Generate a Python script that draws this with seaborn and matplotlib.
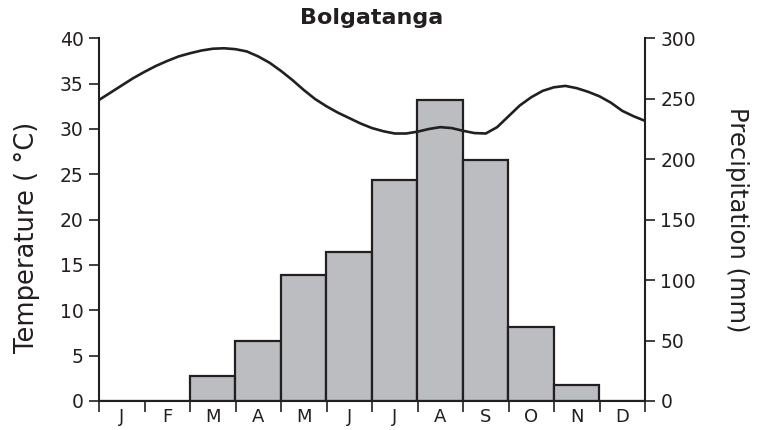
import numpy as np
import matplotlib
matplotlib.use("Agg")
import matplotlib.pyplot as plt
import seaborn as sns

months = ["J", "F", "M", "A", "M", "J", "J", "A", "S", "O", "N", "D"]
precip = [0, 0, 21, 50, 104, 123, 183, 249, 199, 61, 13, 0]

# temperature curve, position in months from start of Jan
temp_pos = [0.00, 0.25, 0.50, 0.75, 1.00, 1.25, 1.50, 1.75, 2.00, 2.25, 2.50, 2.75,
            3.00, 3.25, 3.50, 3.75, 4.00, 4.25, 4.50, 4.75, 5.00, 5.25, 5.50, 5.75,
            6.00, 6.25, 6.50, 6.75, 7.00, 7.25, 7.50, 7.75, 8.00, 8.25, 8.50, 8.75,
            9.00, 9.25, 9.50, 9.75, 10.00, 10.25, 10.50, 10.75, 11.00, 11.25, 11.50,
            11.75, 12.00]
temp_vals = [33.2, 34.0, 34.8, 35.6, 36.3, 36.95, 37.5, 38.0, 38.35, 38.65, 38.85, 38.9,
             38.8, 38.55, 38.0, 37.3, 36.4, 35.4, 34.3, 33.3, 32.5, 31.8, 31.2, 30.6,
             30.1, 29.75, 29.5, 29.5, 29.7, 30.0, 30.2, 30.1, 29.8, 29.55, 29.5, 30.2,
             31.4, 32.6, 33.5, 34.2, 34.6, 34.75, 34.5, 34.1, 33.6, 32.9, 32.0,
             31.4, 30.9]

dark = "#231f20"
bar_fill = "#bcbdc1"

sns.set_style("ticks")
plt.rcParams["font.family"] = ["DejaVu Sans"]
plt.rcParams["text.color"] = dark
plt.rcParams["axes.labelcolor"] = dark
plt.rcParams["xtick.color"] = dark
plt.rcParams["ytick.color"] = dark

fig = plt.figure(figsize=(7.65, 4.3), dpi=100)
ax = fig.add_axes([99 / 765, 1 - 401 / 430, (645 - 99) / 765, (401 - 38.3) / 430])
ax2 = ax.twinx()

# precipitation bars on the right axis
sns.barplot(x=list(range(12)), y=precip, ax=ax2, color=bar_fill, saturation=1,
            width=1.0, edgecolor=dark, linewidth=1.6)

# temperature line on the left axis, drawn above the bars
xpos = [p - 0.5 for p in temp_pos]
sns.lineplot(x=xpos, y=temp_vals, ax=ax, color=dark, linewidth=1.9)
ax.set_zorder(ax2.get_zorder() + 1)
ax.patch.set_visible(False)

ax.set_xlim(-0.5, 11.5)
ax.set_ylim(0, 40)
ax2.set_ylim(0, 300)
ax.set_yticks(range(0, 41, 5))
ax2.set_yticks(range(0, 301, 50))

ax.set_xticks(range(12))
ax.set_xticklabels(months, fontsize=13)
ax.set_xticks(np.arange(-0.5, 12, 1), minor=True)
ax.tick_params(axis="x", which="major", length=0, pad=5)
ax.tick_params(axis="x", which="minor", length=8, width=1.2, direction="out")
ax.tick_params(axis="y", length=7, width=1.2, labelsize=13.5, pad=4)
ax2.tick_params(axis="y", length=7, width=1.2, labelsize=13.5, pad=4)
ax2.tick_params(axis="x", bottom=False, labelbottom=False)
ax2.set_xlabel("")

for s in ["top", "right"]:
    ax.spines[s].set_visible(False)
for s in ["top", "left", "bottom"]:
    ax2.spines[s].set_visible(False)
for s in ["left", "bottom"]:
    ax.spines[s].set_linewidth(1.5)
    ax.spines[s].set_color(dark)
ax2.spines["right"].set_linewidth(1.5)
ax2.spines["right"].set_color(dark)

ax.set_ylabel("Temperature ( °C)", fontsize=18.5)
ax.yaxis.set_label_coords(-0.108, 0.452)
ax2.set_ylabel("Precipitation (mm)", fontsize=17.5, rotation=270, labelpad=38)
ax.set_title("Bolgatanga", fontsize=16, fontweight="bold", pad=10)

fig.savefig("out.png", dpi=100)
